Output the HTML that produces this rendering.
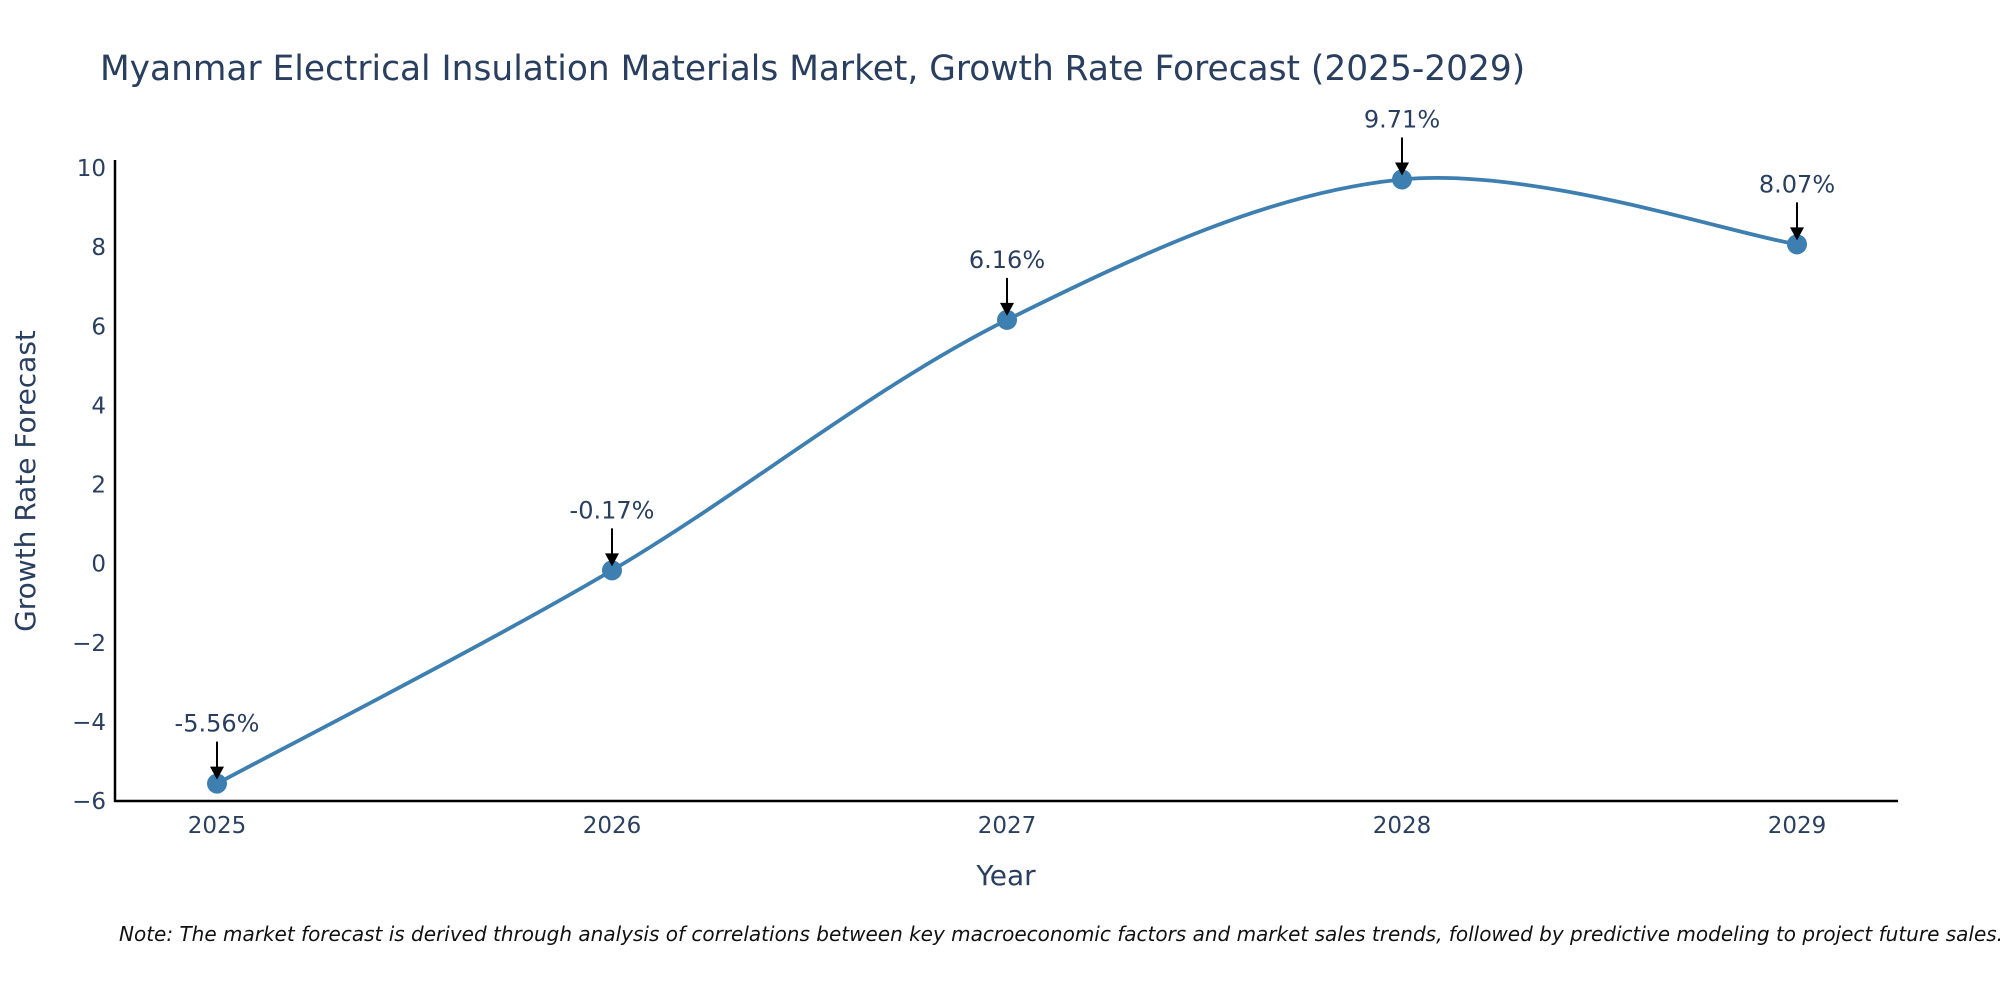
<!DOCTYPE html>
<html><head><meta charset="utf-8"><style>
html,body{margin:0;padding:0;background:#fff;}
svg{display:block;font-family:"DejaVu Sans","Liberation Sans",sans-serif;}
</style></head><body>
<svg id="chart" width="2000" height="1000" viewBox="0 0 2000 1000">
<text x="100" y="80" font-size="34.4" fill="#2a3f5f">Myanmar Electrical Insulation Materials Market, Growth Rate Forecast (2025-2029)</text>
<g id="yticks"></g><g id="xticks"></g>
<line x1="115" y1="160" x2="115" y2="802" stroke="#000" stroke-width="2.5"/>
<line x1="114" y1="801" x2="1898" y2="801" stroke="#000" stroke-width="2.5"/>
<g id="series"></g><g id="annots"></g>
<text x="1006" y="885" font-size="28" fill="#2a3f5f" text-anchor="middle">Year</text>
<text transform="translate(35,481) rotate(-90)" font-size="28" fill="#2a3f5f" text-anchor="middle">Growth Rate Forecast</text>
<text x="119" y="941" font-size="20" font-style="italic" fill="#111">Note: The market forecast is derived through analysis of correlations between key macroeconomic factors and market sales trends, followed by predictive modeling to project future sales.</text>
</svg>
<script>
const years = [2025, 2026, 2027, 2028, 2029];
const growth = [-5.56, -0.17, 6.16, 9.71, 8.07];
const labels = ["-5.56%", "-0.17%", "6.16%", "9.71%", "8.07%"];
const yTickValues = [-6, -4, -2, 0, 2, 4, 6, 8, 10];
const yTickLabels = ["\u22126", "\u22124", "\u22122", "0", "2", "4", "6", "8", "10"];

const NS = "http://www.w3.org/2000/svg";
const xS = v => 217 + (v - 2025) * (1797 - 217) / 4;
const yS = v => 801 - (v + 6) * (801 - 168) / 16;
function mk(tag, attrs, parent, txt) {
  const e = document.createElementNS(NS, tag);
  for (const k in attrs) e.setAttribute(k, attrs[k]);
  if (txt !== undefined) e.textContent = txt;
  parent.appendChild(e); return e;
}
const yt = document.getElementById('yticks');
yTickValues.forEach((v, i) => {
  const t = mk('text', {x: 106, y: yS(v) + 8, 'font-size': 23, fill: '#2a3f5f', 'text-anchor': 'end'}, yt, yTickLabels[i]);
  
  
});
const xt = document.getElementById('xticks');
years.forEach(y => {
  const t = mk('text', {x: xS(y), y: 833, 'font-size': 23, fill: '#2a3f5f', 'text-anchor': 'middle'}, xt, String(y));
  
  
});
const pts = years.map((y, i) => [xS(y), yS(growth[i])]);
let d = `M${pts[0][0]},${pts[0][1]}`;
for (let i = 0; i < pts.length - 1; i++) {
  const p0 = pts[Math.max(i - 1, 0)], p1 = pts[i], p2 = pts[i + 1], p3 = pts[Math.min(i + 2, pts.length - 1)];
  const c1 = [p1[0] + (p2[0] - p0[0]) / 6, p1[1] + (p2[1] - p0[1]) / 6];
  const c2 = [p2[0] - (p3[0] - p1[0]) / 6, p2[1] - (p3[1] - p1[1]) / 6];
  d += ` C${c1[0]},${c1[1]} ${c2[0]},${c2[1]} ${p2[0]},${p2[1]}`;
}
const s = document.getElementById('series');
const line = mk('path', {d: d, fill: 'none', stroke: '#3d7fb0', 'stroke-width': 3.8}, s);


pts.forEach(p => {
  const c = mk('circle', {cx: p[0], cy: p[1], r: 10, fill: '#3d7fb0'}, s);
  
  
});
const a = document.getElementById('annots');
pts.forEach((p, i) => {
  const g = mk('g', {}, a);
  
  
  mk('line', {x1: p[0], y1: p[1] - 42, x2: p[0], y2: p[1] - 14, stroke: '#000', 'stroke-width': 2}, g);
  mk('polygon', {points: `${p[0]-7},${p[1]-17} ${p[0]+7},${p[1]-17} ${p[0]},${p[1]-4}`, fill: '#000'}, g);
  mk('text', {x: p[0], y: p[1] - 52, 'font-size': 24, fill: '#2a3f5f', 'text-anchor': 'middle'}, g, labels[i]);
});
</script>
</body></html>
